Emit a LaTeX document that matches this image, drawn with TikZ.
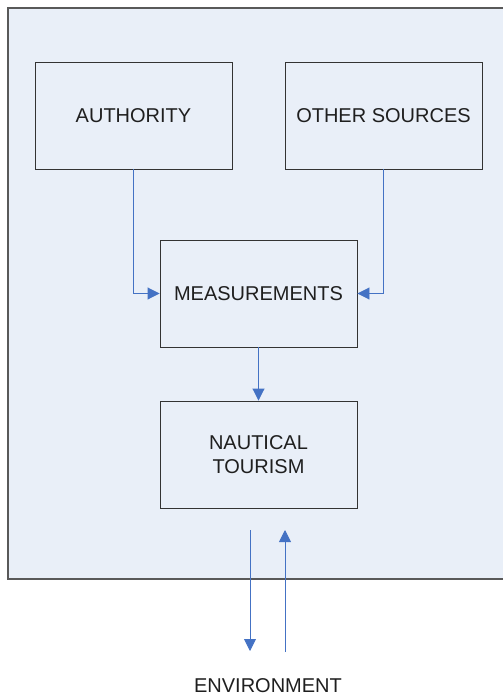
\documentclass[tikz,border=0pt]{standalone}
\usepackage{fontspec}
\setmainfont{Liberation Sans}
\usetikzlibrary{arrows.meta}
\definecolor{bgblue}{HTML}{E9EFF8}
\definecolor{arrowblue}{HTML}{4472C4}
\definecolor{boxline}{HTML}{333333}
\begin{document}
\begin{tikzpicture}[x=1pt,y=-1pt,
  box/.style={draw=boxline, line width=0.9pt, minimum width=197pt, minimum height=107pt, inner sep=0pt, align=center, font=\fontsize{20}{24}\selectfont, text=black!88},
  conn/.style={draw=arrowblue, line width=0.9pt, -{Triangle[length=12pt,width=12pt]}}]
\useasboundingbox (0,0) rectangle (503,696);
\fill[bgblue] (8,8) rectangle (503,579);
\draw[black!65, line width=1.2pt] (503,8) -- (8,8) -- (8,579) -- (503,579);
\node[box] (auth) at (133.5,115.5) {AUTHORITY};
\node[box] (other) at (383.5,115.5) {OTHER SOURCES};
\node[box] (meas) at (258.5,293.5) {MEASUREMENTS};
\node[box] (naut) at (258.5,454.5) {NAUTICAL\\TOURISM};
\node[font=\fontsize{20}{24}\selectfont, text=black!88] (env) at (268,686) {ENVIRONMENT};
\draw[conn] (auth.south) |- (meas.west);
\draw[conn] (other.south) |- (meas.east);
\draw[conn] (meas.south) -- (naut.north);
\coordinate (d1) at (250,530);
\coordinate (d2) at (250,651);
\coordinate (u1) at (285,652);
\coordinate (u2) at (285,530);
\draw[conn] (d1) -- (d2);
\draw[conn] (u1) -- (u2);
\end{tikzpicture}
\end{document}
